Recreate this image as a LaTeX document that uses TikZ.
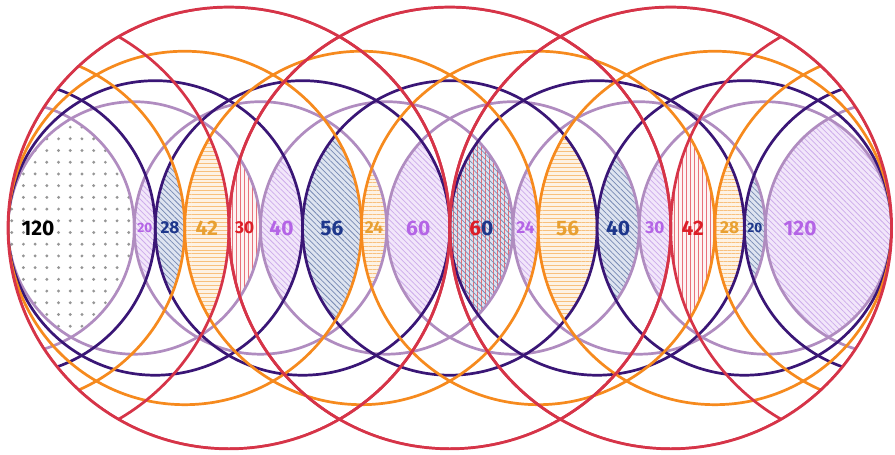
\documentclass[tikz,border=0pt]{standalone}
\usepackage{fontspec}
\setmainfont{Fira Sans}
\usetikzlibrary{patterns.meta}

\definecolor{redc}{RGB}{214,52,72}
\definecolor{orangec}{RGB}{246,138,30}
\definecolor{navyc}{RGB}{58,22,118}
\definecolor{lavc}{RGB}{176,140,192}
\definecolor{redtxt}{RGB}{220,30,40}
\definecolor{orangetxt}{RGB}{232,160,50}
\definecolor{navytxt}{RGB}{30,55,140}
\definecolor{lavtxt}{RGB}{180,100,230}
\definecolor{lavbg}{RGB}{242,230,250}
\definecolor{lavpat}{RGB}{205,172,235}
\definecolor{navybg}{RGB}{222,228,240}
\definecolor{navypat}{RGB}{120,138,180}
\definecolor{orangebg}{RGB}{253,242,228}
\definecolor{orangepat}{RGB}{248,192,125}
\definecolor{redbg}{RGB}{253,243,243}
\definecolor{redpat}{RGB}{232,112,122}
\definecolor{dotgray}{RGB}{150,150,150}

\tikzset{
  ring/.style={line width=2.2pt},
  lavring/.style={ring,draw=lavc},
  navyring/.style={ring,draw=navyc},
  orangering/.style={ring,draw=orangec},
  redring/.style={ring,draw=redc},
  dotsfill/.style={pattern={Dots[distance=9.5pt,radius=1.3pt]},pattern color=dotgray},
  lavfill/.style={preaction={fill=lavbg},pattern={Lines[angle=-45,distance=3.2pt,line width=0.6pt]},pattern color=lavpat},
  navyfill/.style={preaction={fill=navybg},pattern={Lines[angle=-45,distance=3.2pt,line width=0.6pt]},pattern color=navypat},
  orangefill/.style={preaction={fill=orangebg},pattern={Lines[angle=0,distance=3.2pt,line width=0.6pt]},pattern color=orangepat},
  redfill/.style={preaction={fill=redbg},pattern={Lines[angle=90,distance=3.2pt,line width=0.6pt]},pattern color=redpat},
  crossfill/.style={preaction={fill=navybg},
    preaction={pattern={Lines[angle=90,distance=3.2pt,line width=0.6pt]},pattern color=redpat},
    pattern={Lines[angle=-45,distance=3.2pt,line width=0.6pt]},pattern color=navypat},
  lbl/.style={font=\bfseries\fontsize{17}{17}\selectfont,inner sep=0pt},
  midlbl/.style={lbl,font=\bfseries\fontsize{14}{14}\selectfont},
  smalllbl/.style={lbl,font=\bfseries\fontsize{11}{11}\selectfont}
}

\begin{document}
\begin{tikzpicture}[x=0.3mm,y=0.3mm]
  \path[use as bounding box,fill=white] (-7.6,-215.8) rectangle (843.2,216.7);
  \foreach \lc/\lr/\rc/\rr/\sty in {120/120/0/120/dotsfill,240/120/0/140/lavfill,
      280/140/0/168/navyfill,336/168/0/210/orangefill,420/210/120/120/redfill,
      360/120/140/140/lavfill,420/140/168/168/navyfill,504/168/240/120/orangefill,
      480/120/280/140/lavfill,560/140/360/120/crossfill,600/120/336/168/lavfill,
      672/168/420/140/orangefill,700/140/480/120/navyfill,720/120/420/210/lavfill,
      840/210/504/168/redfill,840/168/560/140/orangefill,840/140/600/120/navyfill,
      840/120/720/120/lavfill}{
    \begin{scope}
      \clip (\lc,0) circle (\lr);
      \fill[\sty] (\rc,0) circle (\rr);
    \end{scope}
  }
  \begin{scope}
    \clip (210,0) circle (210) (420,0) circle (210) (630,0) circle (210);
    \foreach \c in {0,120,...,840} \draw[lavring] (\c,0) circle (120);
    \foreach \c in {0,140,...,840} \draw[navyring] (\c,0) circle (140);
    \foreach \c in {0,168,...,840} \draw[orangering] (\c,0) circle (168);
    \foreach \c in {0,210,...,840} \draw[redring] (\c,0) circle (210);
  \end{scope}
  \foreach \c in {210,420,630} \draw[redring] (\c,0) circle (210);

  \node[lbl,text=black] (n120l) at (28.5,0) {120};
  \node[smalllbl,text=lavtxt] (n20l) at (130,0) {20};
  \node[midlbl,text=navytxt] (n28l) at (154,0) {28};
  \node[lbl,text=orangetxt] (n42l) at (189,0) {42};
  \node[midlbl,text=redtxt] (n30l) at (225,0) {30};
  \node[lbl,text=lavtxt] (n40l) at (260,0) {40};
  \node[lbl,text=navytxt] (n56l) at (308,0) {56};
  \node[midlbl,text=orangetxt] (n24l) at (348,0) {24};
  \node[lbl,text=lavtxt] (n60l) at (390,0) {60};
  \node[lbl] (n60r) at (450,0) {\color{redtxt}6\color{navytxt}0};
  \node[midlbl,text=lavtxt] (n24r) at (492,0) {24};
  \node[lbl,text=orangetxt] (n56r) at (532,0) {56};
  \node[lbl,text=navytxt] (n40r) at (580,0) {40};
  \node[midlbl,text=lavtxt] (n30r) at (615,0) {30};
  \node[lbl,text=redtxt] (n42r) at (651,0) {42};
  \node[midlbl,text=orangetxt] (n28r) at (686,0) {28};
  \node[smalllbl,text=navytxt] (n20r) at (710,0) {20};
  \node[lbl,text=lavtxt] (n120r) at (753,0) {120};
\end{tikzpicture}
\end{document}
